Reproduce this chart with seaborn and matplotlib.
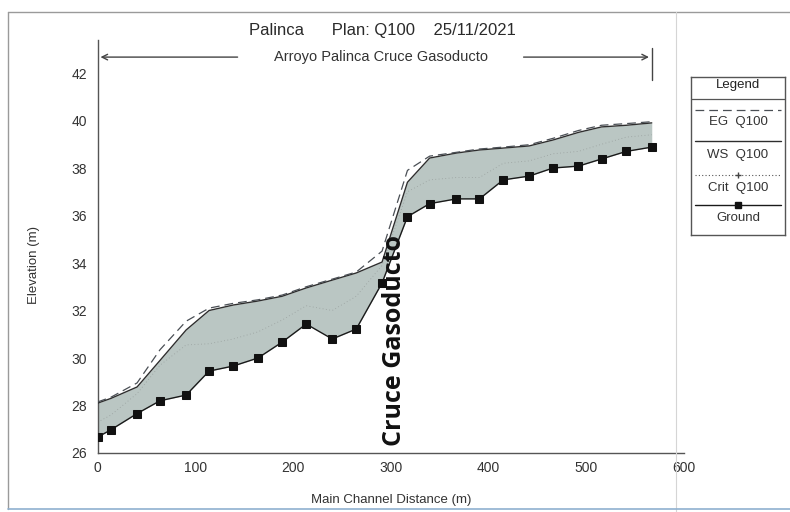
import numpy as np
import pandas as pd
import matplotlib
matplotlib.use("Agg")
import matplotlib.pyplot as plt
import seaborn as sns

# ---------------- data ----------------
station = [0, 13.6, 40.3, 63.8, 90.5, 114, 138.6, 164, 188.8, 213.4, 240, 264.6,
           291, 317, 339.7, 367, 390.7, 415, 441.6, 466, 492, 515.6, 541, 567]
ground = [26.67, 26.98, 27.66, 28.2, 28.44, 29.45, 29.66, 30.0, 30.67, 31.43, 30.8, 31.22,
          33.16, 35.95, 36.5, 36.7, 36.7, 37.5, 37.66, 38.0, 38.08, 38.38, 38.7, 38.88]
ws = [28.1, 28.3, 28.78, 29.9, 31.18, 32.0, 32.23, 32.4, 32.6, 32.95, 33.28, 33.58,
      34.04, 37.4, 38.42, 38.63, 38.76, 38.84, 38.93, 39.18, 39.5, 39.73, 39.8, 39.9]
eg = [28.15, 28.35, 28.95, 30.35, 31.55, 32.1, 32.3, 32.45, 32.65, 33.0, 33.32, 33.62,
      34.5, 37.9, 38.5, 38.66, 38.8, 38.88, 38.98, 39.25, 39.58, 39.8, 39.87, 39.95]
crit = [27.3, 27.6, 28.5, 29.7, 30.55, 30.6, 30.8, 31.1, 31.6, 32.2, 32.0, 32.6,
        33.9, 37.0, 37.5, 37.6, 37.6, 38.2, 38.3, 38.6, 38.7, 39.0, 39.3, 39.4]

title_text = "Palinca      Plan: Q100    25/11/2021"
reach_text = "Arroyo Palinca Cruce Gasoducto"
section_label = "Cruce Gasoducto"
legend_labels = ["EG  Q100", "WS  Q100", "Crit  Q100", "Ground"]
x_ticks = [0, 100, 200, 300, 400, 500, 600]
y_ticks = [26, 28, 30, 32, 34, 36, 38, 40, 42]

df = pd.DataFrame({"station": station, "ground": ground, "ws": ws, "eg": eg, "crit": crit})

# ---------------- style ----------------
sns.set_style("white")
plt.rcParams["font.family"] = ["Liberation Sans", "DejaVu Sans"]
txt = "#333333"

fig = plt.figure(figsize=(7.9, 5.12), dpi=100)
ax = fig.add_axes([97.7 / 790, 1 - 453 / 512, (684 - 97.7) / 790, (453 - 40) / 512])

ax.fill_between(df["station"], df["ground"], df["ws"], color="#bac6c3", lw=0, zorder=1)
sns.lineplot(data=df, x="station", y="crit", ax=ax, color="#8a8f8e", lw=0.6, alpha=0.7,
             linestyle=(0, (1, 3)), zorder=2)
sns.lineplot(data=df, x="station", y="ws", ax=ax, color="#2e2e2e", lw=1.0, zorder=3)
sns.lineplot(data=df, x="station", y="eg", ax=ax, color="#4a4f55", lw=0.9,
             linestyle=(0, (7, 4)), zorder=4)
sns.lineplot(data=df, x="station", y="ground", ax=ax, color="#1a1a1a", lw=1.0,
             marker="s", markersize=6, markeredgecolor="#111111",
             markerfacecolor="#111111", zorder=5)

ax.set_xlim(0, 600)
ax.set_ylim(26, 43.39)
ax.set_xticks(x_ticks)
ax.set_yticks(y_ticks)
ax.set_xticks(np.arange(0, 601, 20), minor=True)
ax.set_yticks(np.arange(26, 43.1, 1), minor=True)
ax.tick_params(axis="both", which="major", labelsize=10, colors="#555555",
               labelcolor=txt, length=4, width=0.9)
ax.tick_params(axis="both", which="minor", length=2.5, width=0.8, colors="#555555")
ax.tick_params(axis="x", which="both", direction="inout")
ax.tick_params(axis="y", which="both", direction="out")
for s in ["top", "right"]:
    ax.spines[s].set_visible(False)
for s in ["left", "bottom"]:
    ax.spines[s].set_color("#555555")
    ax.spines[s].set_linewidth(1.0)
ax.set_xlabel("Main Channel Distance (m)", fontsize=9.5, color=txt)
ax.set_ylabel("Elevation (m)", fontsize=9.5, color=txt)
ax.xaxis.set_label_coords(0.5, -0.099)
ax.yaxis.set_label_coords(-0.098, 0.455)

# reach annotation with arrows
y_arrow = 42.67
ax.annotate("", xy=(station[0], y_arrow), xytext=(146, y_arrow),
            arrowprops=dict(arrowstyle="->", color="#444444", lw=1.0), annotation_clip=False)
ax.annotate("", xy=(station[-1], y_arrow), xytext=(433, y_arrow),
            arrowprops=dict(arrowstyle="->", color="#444444", lw=1.0), annotation_clip=False)
ax.plot([station[-1], station[-1]], [41.7, 43.05], color="#444444", lw=1.0, clip_on=False)
ax.text(290, y_arrow + 0.02, reach_text, ha="center", va="center", fontsize=10.5,
        color=txt)

# section label
ax.text(304, 30.75, section_label, rotation=90, ha="center", va="center",
        fontsize=18, fontweight="bold", color="#111111",
        family=["Open Sans", "DejaVu Sans"], zorder=6)

# title
fig.text(0.484, 0.94, title_text, ha="center", va="center", fontsize=12, color="#2a2a2a")

# ---------------- legend box ----------------
lg = fig.add_axes([691 / 790, 1 - 235 / 512, 94 / 790, 158 / 512])
lg.set_xlim(0, 1)
lg.set_ylim(0, 1)
lg.set_xticks([])
lg.set_yticks([])
for s in lg.spines.values():
    s.set_color("#555555")
    s.set_linewidth(1.0)
lg.text(0.5, 0.949, "Legend", ha="center", va="center", fontsize=9.5, color="#222222")
lg.axhline(0.861, color="#555555", lw=0.9)
lg.plot([0.04, 0.96], [0.791, 0.791], color="#4a4f55", lw=0.9, linestyle=(0, (7, 4)))
lg.text(0.5, 0.715, legend_labels[0], ha="center", va="center", fontsize=9.5, color=txt)
lg.plot([0.04, 0.96], [0.595, 0.595], color="#2e2e2e", lw=1.0)
lg.text(0.5, 0.506, legend_labels[1], ha="center", va="center", fontsize=9.5, color=txt)
lg.plot([0.04, 0.96], [0.38, 0.38], color="#555555", lw=0.8, linestyle=(0, (1, 2)))
lg.plot([0.5], [0.38], marker="+", color="#444444", markersize=4)
lg.text(0.5, 0.297, legend_labels[2], ha="center", va="center", fontsize=9.5, color=txt)
lg.plot([0.04, 0.96], [0.19, 0.19], color="#1a1a1a", lw=1.0)
lg.plot([0.5], [0.19], marker="s", color="#111111", markersize=4.5)
lg.text(0.5, 0.108, legend_labels[3], ha="center", va="center", fontsize=9.5, color=txt)

# page frame lines from the scanned sheet
fig.add_artist(plt.Line2D([8 / 790, 8 / 790], [1 - 12 / 512, 1 - 509 / 512],
                          color="#9a9a9a", lw=1.0, transform=fig.transFigure))
fig.add_artist(plt.Line2D([8 / 790, 1.0], [1 - 12 / 512, 1 - 12 / 512],
                          color="#9a9a9a", lw=1.0, transform=fig.transFigure))
fig.add_artist(plt.Line2D([676 / 790, 676 / 790], [1 - 12 / 512, 0.0],
                          color="#d5d5d5", lw=0.8, transform=fig.transFigure))
fig.add_artist(plt.Line2D([8 / 790, 1.0], [1 - 509 / 512, 1 - 509 / 512],
                          color="#8fb0cf", lw=1.2, transform=fig.transFigure))

fig.savefig("out.png", dpi=100)
